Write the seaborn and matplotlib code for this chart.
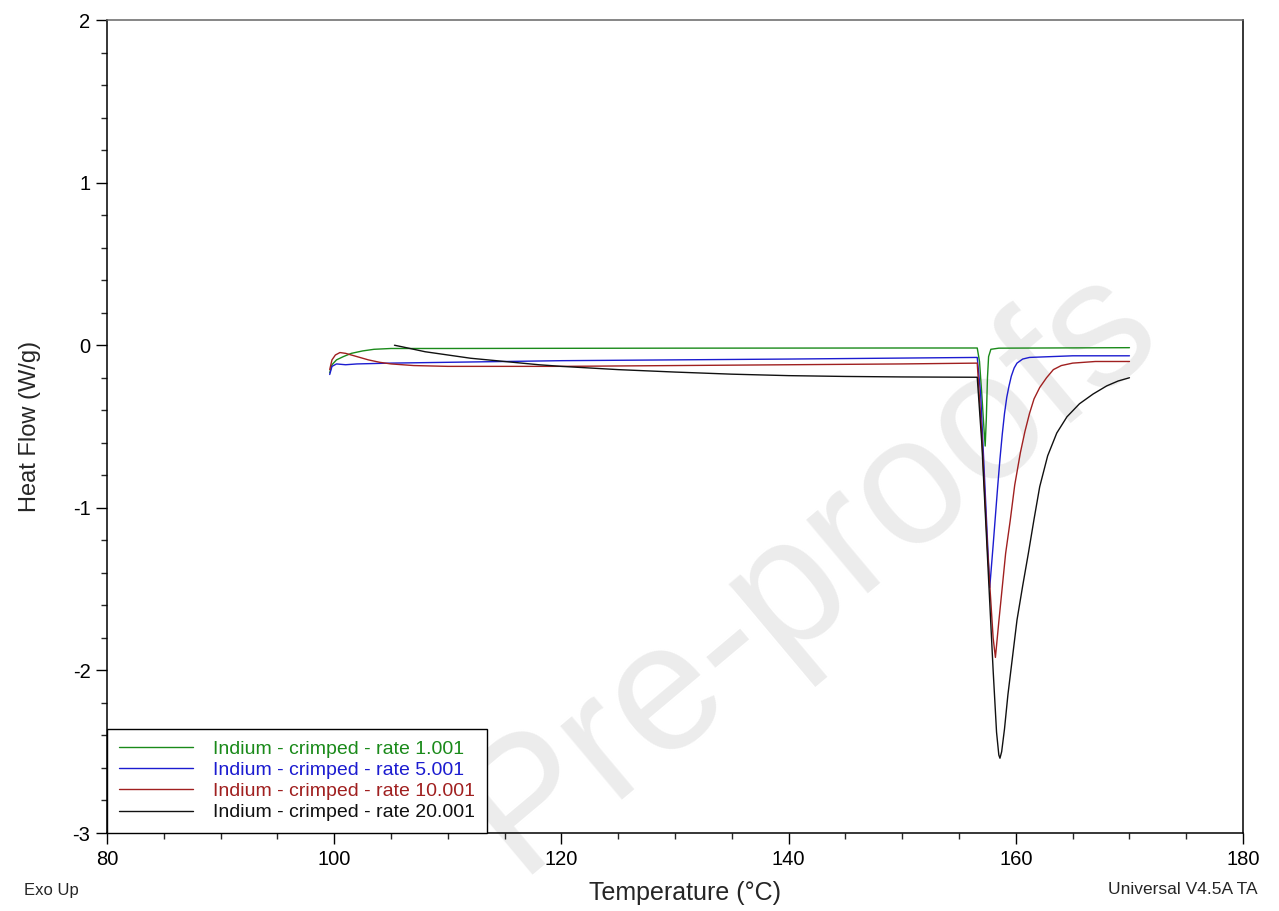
import numpy as np
import pandas as pd
import seaborn as sns
import matplotlib.pyplot as plt

# Dados (DSC - Índio, cápsula crimpada)
labels = ['Indium - crimped - rate 1.001', 'Indium - crimped - rate 5.001',
          'Indium - crimped - rate 10.001', 'Indium - crimped - rate 20.001']
colors = ['#1a8a1a', '#1c1cd0', '#a02020', '#111111']

temp_1 = [99.6, 99.8, 100.2, 100.8, 101.5, 102.5, 103.5, 105, 110, 130, 150, 156.6,
          156.8, 157.0, 157.2, 157.3, 157.4, 157.5, 157.6, 157.8, 158.5, 170]
hf_1 = [-0.17, -0.12, -0.09, -0.07, -0.05, -0.035, -0.025, -0.02, -0.02, -0.018, -0.017, -0.017,
        -0.1, -0.3, -0.52, -0.62, -0.45, -0.2, -0.07, -0.025, -0.018, -0.015]

temp_5 = [99.6, 99.8, 100.2, 101, 102, 105, 120, 140, 156.6, 156.9, 157.2, 157.5, 157.7,
          157.85, 158.0, 158.2, 158.4, 158.6, 158.8, 159.0, 159.2, 159.4, 159.6, 159.85, 160.1,
          160.6, 161.2, 165, 170]
hf_5 = [-0.18, -0.13, -0.115, -0.12, -0.115, -0.11, -0.095, -0.085, -0.075, -0.3, -0.75, -1.2, -1.49,
        -1.36, -1.23, -1.05, -0.87, -0.7, -0.55, -0.42, -0.32, -0.25, -0.19, -0.14, -0.11,
        -0.085, -0.075, -0.065, -0.065]

temp_10 = [99.6, 99.8, 100.1, 100.5, 101, 102, 103, 104, 105, 107, 110, 120, 130, 140, 150, 156.6,
           157.0, 157.5, 158.0, 158.2, 158.5, 158.8, 159.1, 159.5, 159.9, 160.4, 160.8, 161.2,
           161.6, 162.1, 162.7, 163.3, 164, 165, 167, 170]
hf_10 = [-0.15, -0.09, -0.06, -0.045, -0.05, -0.07, -0.09, -0.105, -0.115, -0.125, -0.13, -0.13,
         -0.125, -0.12, -0.115, -0.11, -0.55, -1.25, -1.8, -1.92, -1.7, -1.49, -1.28, -1.08, -0.86,
         -0.66, -0.53, -0.42, -0.33, -0.26, -0.2, -0.15, -0.125, -0.11, -0.1, -0.1]

temp_20 = [105.3, 106, 107, 108, 110, 112, 115, 118, 120, 125, 130, 135, 140, 145, 150, 156.6,
           157.0, 157.5, 158.0, 158.3, 158.5, 158.6, 158.75, 159.0, 159.3, 159.7, 160.1, 160.6,
           161.1, 161.6, 162.1, 162.8, 163.6, 164.5, 165.6, 166.8, 168, 169, 170]
hf_20 = [0.0, -0.01, -0.025, -0.04, -0.06, -0.08, -0.1, -0.12, -0.13, -0.15, -0.165, -0.178,
         -0.187, -0.192, -0.195, -0.197, -0.6, -1.3, -2.0, -2.38, -2.52, -2.54, -2.5, -2.36, -2.15,
         -1.92, -1.69, -1.48, -1.28, -1.07, -0.87, -0.68, -0.54, -0.44, -0.36, -0.3, -0.25, -0.22,
         -0.2]

frames = []
for lab, t, h in zip(labels, [temp_1, temp_5, temp_10, temp_20], [hf_1, hf_5, hf_10, hf_20]):
    frames.append(pd.DataFrame({'temp': t, 'hf': h, 'serie': lab}))
df = pd.concat(frames, ignore_index=True)

sns.set_style('ticks')
plt.rcParams['font.family'] = ['Liberation Sans', 'DejaVu Sans']
plt.rcParams['axes.unicode_minus'] = False

fig = plt.figure(figsize=(12.79, 9.11), dpi=100)
ax = fig.add_axes([0.0837, 0.0856, 0.8882, 0.8924])
ax.set_facecolor('none')

# marca d'água
fig.text(0.634, 0.376, 'Pre-proofs', rotation=40, fontsize=130, color='#ececec',
         ha='center', va='center', rotation_mode='anchor', zorder=-1)

sns.lineplot(data=df, x='temp', y='hf', hue='serie', palette=dict(zip(labels, colors)),
             sort=False, estimator=None, linewidth=1.0, ax=ax)

ax.set_xlim(80, 180)
ax.set_ylim(-3, 2)
ax.set_xticks([80, 100, 120, 140, 160, 180])
ax.set_xticks(np.arange(85, 180, 5), minor=True)
ax.set_yticks([-3, -2, -1, 0, 1, 2])
ax.set_yticks(np.arange(-2.8, 2, 0.2), minor=True)
ax.tick_params(which='major', direction='out', length=8, width=1, labelsize=14.5, pad=4, colors='black')
ax.tick_params(which='minor', direction='out', length=4, width=1)
for s in ax.spines.values():
    s.set_color('black')
    s.set_linewidth(1.1)
ax.spines['top'].set_color('#666666')

ax.set_xlabel('Temperature (°C)', fontsize=18)
ax.xaxis.set_label_coords(0.509, -0.074)
ax.xaxis.label.set_va('center')
ax.set_ylabel('Heat Flow (W/g)', fontsize=17)
ax.yaxis.set_label_coords(-0.068, 0.5)
ax.yaxis.label.set_va('center')

leg = ax.legend(loc='lower left', bbox_to_anchor=(0, 0), borderaxespad=0, fontsize=14,
                frameon=True, fancybox=False, edgecolor='black', framealpha=1,
                handlelength=3.8, handletextpad=1.05, labelspacing=0.18, borderpad=0.6)
leg.get_frame().set_linewidth(1)
for txt, c in zip(leg.get_texts(), colors):
    txt.set_color(c)

fig.text(24 / 1279, 1 - 890 / 911, 'Exo Up', fontsize=12, ha='left', va='center')
fig.text(1258 / 1279, 1 - 890 / 911, 'Universal V4.5A TA', fontsize=12.5, ha='right', va='center')

fig.savefig('out.png', dpi=100, facecolor='white')
